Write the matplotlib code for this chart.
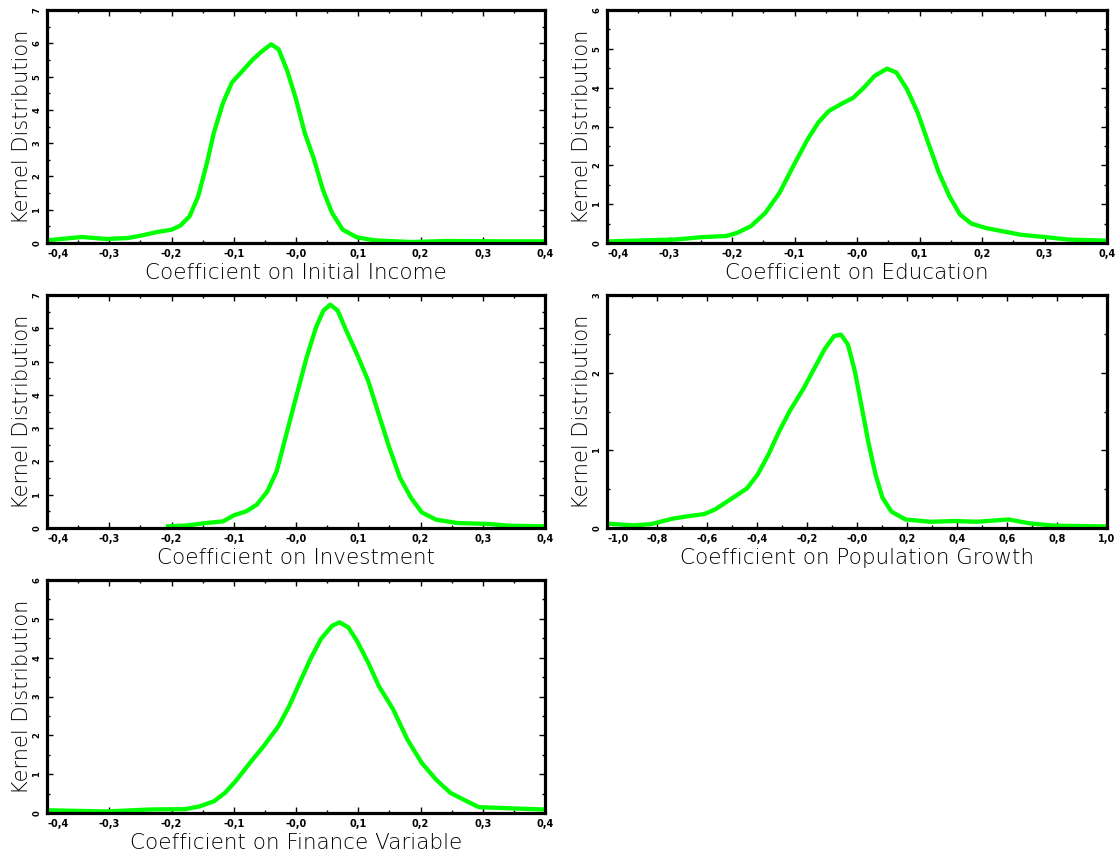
import matplotlib
matplotlib.use("Agg")
import matplotlib.pyplot as plt
from matplotlib.ticker import MultipleLocator

# ---------------- data ----------------
income_x = [-0.400, -0.344, -0.304, -0.270, -0.247, -0.223, -0.200, -0.186, -0.171, -0.157,
            -0.143, -0.132, -0.117, -0.103, -0.086, -0.069, -0.054, -0.040, -0.028, -0.014,
            0.000, 0.014, 0.029, 0.043, 0.058, 0.075, 0.098, 0.126, 0.184, 0.242, 0.328, 0.400]
income_y = [0.08, 0.18, 0.12, 0.15, 0.23, 0.33, 0.40, 0.52, 0.80, 1.41,
            2.41, 3.31, 4.22, 4.82, 5.17, 5.52, 5.77, 5.97, 5.82, 5.17,
            4.32, 3.31, 2.51, 1.61, 0.90, 0.40, 0.17, 0.08, 0.03, 0.06, 0.05, 0.05]

educ_x = [-0.400, -0.290, -0.249, -0.209, -0.192, -0.170, -0.147, -0.124, -0.102, -0.079,
          -0.062, -0.045, -0.023, -0.006, 0.011, 0.028, 0.048, 0.063, 0.080, 0.097,
          0.114, 0.131, 0.148, 0.165, 0.183, 0.205, 0.240, 0.263, 0.303, 0.337, 0.400]
educ_y = [0.04, 0.09, 0.15, 0.18, 0.26, 0.43, 0.77, 1.29, 1.98, 2.67,
          3.10, 3.40, 3.60, 3.74, 4.00, 4.30, 4.49, 4.39, 3.96, 3.36,
          2.58, 1.81, 1.20, 0.73, 0.50, 0.39, 0.28, 0.21, 0.15, 0.09, 0.06]

invest_x = [-0.209, -0.178, -0.149, -0.117, -0.100, -0.080, -0.063, -0.046, -0.031, -0.017,
            0.000, 0.017, 0.032, 0.044, 0.055, 0.067, 0.081, 0.098, 0.116, 0.133,
            0.150, 0.167, 0.185, 0.202, 0.225, 0.259, 0.311, 0.340, 0.400]
invest_y = [0.05, 0.07, 0.14, 0.20, 0.38, 0.50, 0.70, 1.10, 1.71, 2.71,
            3.92, 5.12, 6.02, 6.53, 6.71, 6.53, 5.92, 5.22, 4.42, 3.41,
            2.41, 1.51, 0.90, 0.47, 0.25, 0.15, 0.12, 0.07, 0.05]

pop_x = [-1.000, -0.894, -0.823, -0.738, -0.680, -0.610, -0.567, -0.496, -0.440, -0.397,
         -0.355, -0.312, -0.270, -0.213, -0.170, -0.128, -0.092, -0.064, -0.036, -0.008,
         0.017, 0.045, 0.074, 0.102, 0.138, 0.194, 0.293, 0.393, 0.478, 0.606,
         0.690, 0.790, 1.000]
pop_y = [0.056, 0.034, 0.05, 0.12, 0.15, 0.18, 0.24, 0.39, 0.51, 0.69,
         0.94, 1.24, 1.50, 1.80, 2.06, 2.31, 2.47, 2.49, 2.36, 2.01,
         1.59, 1.11, 0.69, 0.39, 0.21, 0.11, 0.08, 0.09, 0.08, 0.11,
         0.06, 0.03, 0.02]

fin_x = [-0.400, -0.304, -0.235, -0.178, -0.155, -0.132, -0.114, -0.097, -0.074, -0.052,
         -0.028, -0.011, 0.006, 0.023, 0.040, 0.058, 0.070, 0.084, 0.098, 0.116,
         0.133, 0.156, 0.179, 0.202, 0.225, 0.248, 0.271, 0.294, 0.328, 0.400]
fin_y = [0.07, 0.04, 0.09, 0.10, 0.17, 0.30, 0.52, 0.82, 1.29, 1.72,
         2.24, 2.75, 3.36, 3.96, 4.48, 4.82, 4.91, 4.78, 4.43, 3.87,
         3.27, 2.67, 1.89, 1.29, 0.86, 0.52, 0.33, 0.15, 0.13, 0.09]

coef_ticks = [-0.4, -0.3, -0.2, -0.1, 0.0, 0.1, 0.2, 0.3, 0.4]
coef_ticklabels = ["-0,4", "-0,3", "-0,2", "-0,1", "-0,0", "0,1", "0,2", "0,3", "0,4"]
pop_ticks = [-1.0, -0.8, -0.6, -0.4, -0.2, 0.0, 0.2, 0.4, 0.6, 0.8, 1.0]
pop_ticklabels = ["-1,0", "-0,8", "-0,6", "-0,4", "-0,2", "-0,0", "0,2", "0,4", "0,6", "0,8", "1,0"]

xlabels = ["Coefficient on Initial Income", "Coefficient on Education",
           "Coefficient on Investment", "Coefficient on Population Growth",
           "Coefficient on Finance Variable"]
ylabel = "Kernel Distribution"
ymax = [7, 6, 7, 3, 6]

# ---------------- figure ----------------
W, H = 1115, 859
fig = plt.figure(figsize=(W / 100, H / 100), dpi=100)

cols = [(47, 545), (607, 1107)]
rows = [(10, 243), (295, 528), (580, 813)]

panels = [
    (income_x, income_y, coef_ticks, coef_ticklabels, 0.05, 0, 0),
    (educ_x, educ_y, coef_ticks, coef_ticklabels, 0.05, 0, 1),
    (invest_x, invest_y, coef_ticks, coef_ticklabels, 0.05, 1, 0),
    (pop_x, pop_y, pop_ticks, pop_ticklabels, 0.1, 1, 1),
    (fin_x, fin_y, coef_ticks, coef_ticklabels, 0.05, 2, 0),
]

for i, (xs, ys, ticks, tlabels, minor, r, c) in enumerate(panels):
    l, rr = cols[c]
    t, b = rows[r]
    ax = fig.add_axes([l / W, 1 - b / H, (rr - l) / W, (b - t) / H])
    ax.plot(xs, ys, color="#00ff00", lw=3.1, solid_joinstyle="round",
            solid_capstyle="butt")
    ax.set_xlim(ticks[0], ticks[-1])
    ax.set_ylim(0, ymax[i])
    ax.set_xticks(ticks)
    ax.set_xticklabels(tlabels, fontsize=7, fontweight="bold")
    tl = ax.get_xticklabels()
    tl[0].set_horizontalalignment("left")
    ax.xaxis.set_minor_locator(MultipleLocator(minor))
    ax.set_yticks(range(0, ymax[i] + 1))
    ax.set_yticklabels([str(v) for v in range(0, ymax[i] + 1)], fontsize=6,
                       fontweight="bold", rotation=90, va="center")
    ax.yaxis.set_minor_locator(MultipleLocator(0.5))
    ax.tick_params(which="both", direction="in", top=True, right=True, width=1.0)
    ax.tick_params(which="major", length=4)
    ax.tick_params(which="minor", length=2.5)
    ax.tick_params(axis="x", pad=4)
    ax.tick_params(axis="y", pad=4)
    for s in ax.spines.values():
        s.set_linewidth(2.3)
    ax.set_xlabel(xlabels[i], fontsize=15.5, fontweight="light", labelpad=3)
    ax.set_ylabel(ylabel, fontsize=15, fontweight="light", labelpad=0.5)

fig.savefig("out.png", dpi=100)
